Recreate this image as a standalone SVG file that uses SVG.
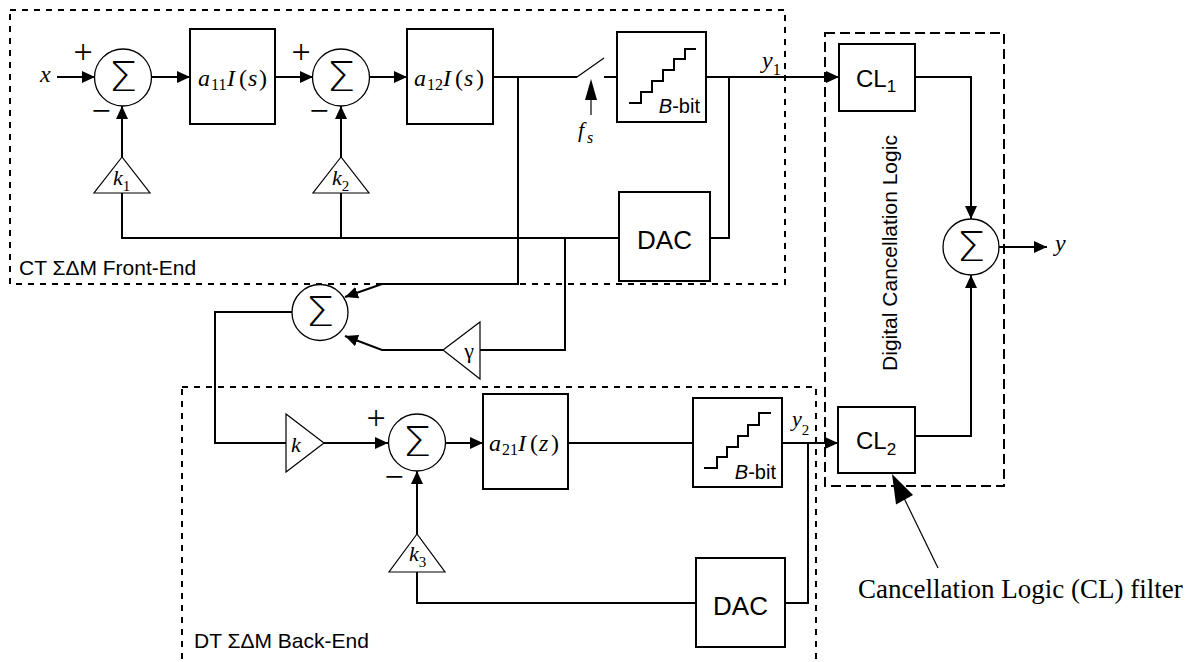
<svg xmlns="http://www.w3.org/2000/svg" width="1191" height="662" viewBox="0 0 1191 662">
<style>
.ln{fill:none;stroke:#000;stroke-width:2}
.thin{fill:none;stroke:#000;stroke-width:1.2}
.bx{fill:#fff;stroke:#000;stroke-width:2}
.sm{fill:#fff;stroke:#000;stroke-width:1.3}
.tri{fill:#fff;stroke:#000;stroke-width:1.2}
.d1{fill:none;stroke:#000;stroke-width:2;stroke-dasharray:6 6}
.d2{fill:none;stroke:#000;stroke-width:2;stroke-dasharray:10 5}
.ser{font-family:"Liberation Serif","Times New Roman",serif;fill:#000}
.san{font-family:"Liberation Sans",Arial,sans-serif;fill:#000}
.it{font-style:italic}
.sig{font-family:"DejaVu Sans",sans-serif;font-weight:200;font-size:40px;text-anchor:middle;dominant-baseline:central}
.pm{font-family:"Liberation Serif","Times New Roman",serif;font-size:34px;text-anchor:middle}
</style>
<defs>
<marker id="ah" markerUnits="userSpaceOnUse" markerWidth="14" markerHeight="12" refX="13" refY="6" orient="auto"><path d="M0,0 L13,6 L0,12 z" fill="#000"/></marker>
</defs>
<rect width="1191" height="662" fill="#fff"/>

<g id="frames">
<rect class="d1" x="10" y="10" width="775" height="274"/>
<rect class="d1" x="182" y="387" width="634" height="300"/>
<rect class="d2" x="825" y="33" width="179" height="453"/>
<text class="san" font-size="21" x="19" y="275">CT ΣΔM Front-End</text>
<text class="san" font-size="21" x="194" y="648">DT ΣΔM Back-End</text>
<text class="san" font-size="21" text-anchor="middle" transform="translate(897,253) rotate(-90)">Digital Cancellation Logic</text>
</g>

<g id="connectors">
<line class="ln" x1="57" y1="77" x2="95" y2="77" marker-end="url(#ah)"/>
<line class="ln" x1="152" y1="77" x2="190" y2="77" marker-end="url(#ah)"/>
<line class="ln" x1="275" y1="77" x2="313" y2="77" marker-end="url(#ah)"/>
<line class="ln" x1="369" y1="77" x2="407" y2="77" marker-end="url(#ah)"/>
<line class="ln" x1="493" y1="77" x2="577" y2="77"/>
<line class="ln" x1="604" y1="77" x2="617" y2="77"/>
<polyline class="ln" points="518,77 518,284 382,284 345,297" marker-end="url(#ah)"/>
<line class="ln" x1="706" y1="77" x2="839" y2="77" marker-end="url(#ah)"/>
<polyline class="ln" points="729,77 729,238 710,238"/>
<polyline class="ln" points="619,238 122,238 122,193"/>
<line class="ln" x1="341" y1="238" x2="341" y2="193"/>
<line class="ln" x1="122" y1="157" x2="122" y2="106" marker-end="url(#ah)"/>
<line class="ln" x1="341" y1="157" x2="341" y2="106" marker-end="url(#ah)"/>
<polyline class="ln" points="565,238 565,350 480,350"/>
<polyline class="ln" points="443,350 382,350 345,336" marker-end="url(#ah)"/>
<polyline class="ln" points="292,312 215,312 215,443 286,443"/>
<line class="ln" x1="324" y1="443" x2="388" y2="443" marker-end="url(#ah)"/>
<line class="ln" x1="446" y1="443" x2="483" y2="443" marker-end="url(#ah)"/>
<line class="ln" x1="568" y1="443" x2="693" y2="443"/>
<line class="ln" x1="782" y1="443" x2="838" y2="443" marker-end="url(#ah)"/>
<polyline class="ln" points="808,443 808,603 785,603"/>
<polyline class="ln" points="696,603 417,603 417,572"/>
<line class="ln" x1="417" y1="534" x2="417" y2="471" marker-end="url(#ah)"/>
<polyline class="ln" points="915,77 971,77 971,219" marker-end="url(#ah)"/>
<polyline class="ln" points="915,436 971,436 971,275" marker-end="url(#ah)"/>
<line class="ln" x1="999" y1="247" x2="1047" y2="247" marker-end="url(#ah)"/>
<line class="thin" x1="591" y1="99" x2="591" y2="115"/>
<polygon points="591,79 585,100 597,100" fill="#000"/>
<line class="thin" x1="938" y1="568" x2="902" y2="494"/>
<polygon points="892,474 913,495 896,504.5" fill="#000"/>
</g>

<g id="sum1">
<circle class="sm" cx="123" cy="77.5" r="28.5"/>
<text class="sig" transform="translate(123,77.5) scale(1.15,1)">Σ</text>
<text class="pm" x="83" y="63">+</text>
<text class="pm" x="101" y="122">−</text>
</g>
<g id="a11">
<rect class="bx" x="190" y="29" width="85" height="95"/>
<text class="ser" font-size="24" y="86"><tspan x="198" class="it">a</tspan><tspan x="211" y="90" font-size="16">11</tspan><tspan x="227" y="86" class="it">I</tspan><tspan x="239">(</tspan><tspan x="248" class="it">s</tspan><tspan x="259">)</tspan></text>
</g>
<g id="sum2">
<circle class="sm" cx="341" cy="77.5" r="28.5"/>
<text class="sig" transform="translate(341,77.5) scale(1.15,1)">Σ</text>
<text class="pm" x="301" y="63">+</text>
<text class="pm" x="319" y="122">−</text>
</g>
<g id="a12">
<rect class="bx" x="407" y="29" width="86" height="95"/>
<text class="ser" font-size="24" y="86"><tspan x="414" class="it">a</tspan><tspan x="427" y="90" font-size="16">12</tspan><tspan x="443" y="86" class="it">I</tspan><tspan x="455">(</tspan><tspan x="464" class="it">s</tspan><tspan x="476">)</tspan></text>
</g>
<g id="switch">
<line class="thin" x1="577" y1="77" x2="604" y2="58" stroke-width="1.5"/>
<text class="ser it" font-size="22" x="578" y="137">f<tspan font-size="16" dy="6" x="587">s</tspan></text>
</g>
<g id="quant1">
<rect class="bx" x="617" y="32" width="89" height="90"/>
<polyline class="ln" points="629,103 641,103 641,92 652,92 652,81 663,81 663,70 674,70 674,59 685,59 685,49 696,49"/>
<text class="san" font-size="20" x="700" y="113" text-anchor="end"><tspan class="it">B</tspan>-bit</text>
<text class="ser it" font-size="24" x="762" y="68">y<tspan font-size="16" dy="7" font-style="normal">1</tspan></text>
</g>
<g id="dac1">
<rect class="bx" x="619" y="192" width="91" height="89"/>
<text class="san" font-size="26" x="664.5" y="249" text-anchor="middle">DAC</text>
</g>
<g id="k1">
<polygon class="tri" points="122,157 94,193 150,193"/>
<text class="ser it" font-size="22" x="113" y="185">k<tspan font-size="15" dy="6" font-style="normal">1</tspan></text>
</g>
<g id="k2">
<polygon class="tri" points="341,157 313,193 369,193"/>
<text class="ser it" font-size="22" x="332" y="185">k<tspan font-size="15" dy="6" font-style="normal">2</tspan></text>
</g>
<g id="x-in">
<text class="ser it" font-size="24" x="40" y="82">x</text>
</g>
<g id="cl1">
<rect class="bx" x="839" y="44" width="76" height="67"/>
<text class="san" font-size="24" x="856" y="87">CL<tspan font-size="17" dy="5">1</tspan></text>
</g>
<g id="cl2">
<rect class="bx" x="838" y="407" width="77" height="66"/>
<text class="san" font-size="24" x="856" y="449">CL<tspan font-size="17" dy="6">2</tspan></text>
</g>
<g id="sum5">
<circle class="sm" cx="971" cy="247" r="28"/>
<text class="sig" transform="translate(971,247) scale(1.15,1)">Σ</text>
<text class="ser it" font-size="24" x="1055" y="251">y</text>
</g>
<g id="sum3">
<circle class="sm" cx="320" cy="312.5" r="28"/>
<text class="sig" transform="translate(320,312.5) scale(1.15,1)">Σ</text>
</g>
<g id="gamma">
<polygon class="tri" points="443,350 480,322 480,379"/>
<text class="ser" font-size="22" x="469" y="358" text-anchor="middle">γ</text>
</g>
<g id="kgain">
<polygon class="tri" points="286,414 286,472 324,443"/>
<text class="ser it" font-size="22" x="291" y="452">k</text>
</g>
<g id="sum4">
<circle class="sm" cx="417" cy="442.5" r="28.5"/>
<text class="sig" transform="translate(417,442.5) scale(1.15,1)">Σ</text>
<text class="pm" x="376" y="429">+</text>
<text class="pm" x="394" y="488">−</text>
</g>
<g id="a21">
<rect class="bx" x="483" y="394" width="85" height="95"/>
<text class="ser" font-size="24" y="451"><tspan x="489" class="it">a</tspan><tspan x="502" y="455" font-size="16">21</tspan><tspan x="518" y="451" class="it">I</tspan><tspan x="530">(</tspan><tspan x="539" class="it">z</tspan><tspan x="551">)</tspan></text>
</g>
<g id="quant2">
<rect class="bx" x="693" y="398" width="89" height="89"/>
<polyline class="ln" points="704,468 717,468 717,457 727,457 727,447 738,447 738,436 748,436 748,425 759,425 759,413 771,413"/>
<text class="san" font-size="20" x="776" y="479" text-anchor="end"><tspan class="it">B</tspan>-bit</text>
<text class="ser it" font-size="22" x="792" y="426">y<tspan font-size="15" dy="9" font-style="normal">2</tspan></text>
</g>
<g id="dac2">
<rect class="bx" x="696" y="558" width="89" height="89"/>
<text class="san" font-size="26" x="740.5" y="615" text-anchor="middle">DAC</text>
</g>
<g id="k3">
<polygon class="tri" points="417,534 389,572 445,572"/>
<text class="ser it" font-size="22" x="409" y="561">k<tspan font-size="15" dy="6" font-style="normal">3</tspan></text>
</g>
<g id="cl-note">
<text class="ser" font-size="27" x="858" y="598">Cancellation Logic (CL) filter</text>
</g>
</svg>
